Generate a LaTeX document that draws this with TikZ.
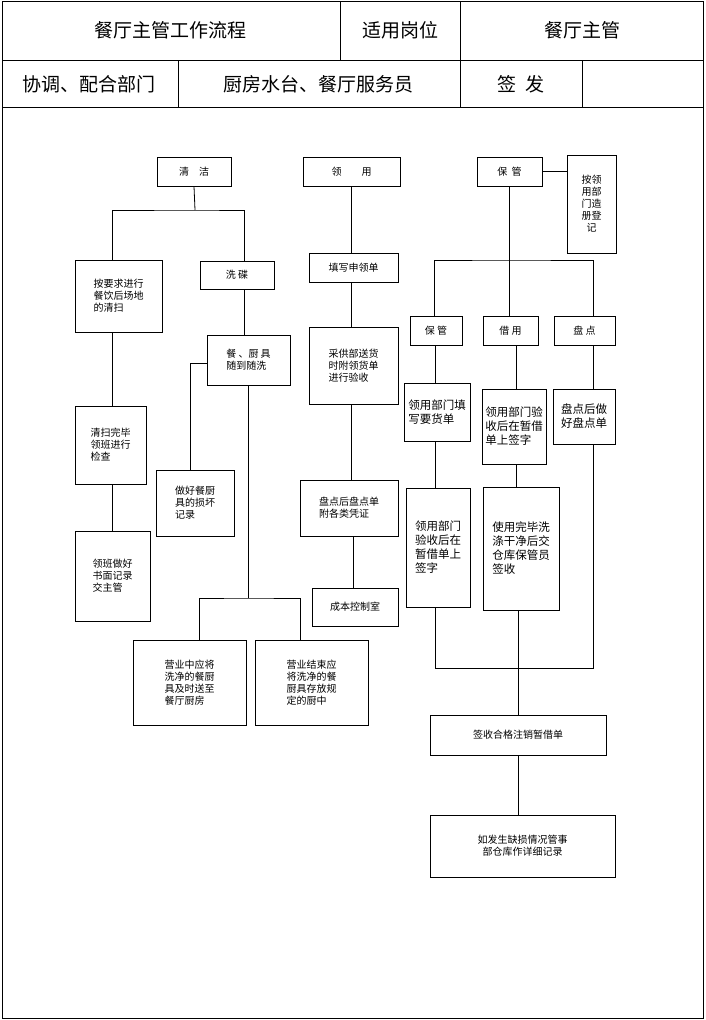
\documentclass[tikz,border=0pt]{standalone}
\usepackage{fontspec}
\setmainfont{Noto Sans CJK SC}
\begin{document}
\begin{tikzpicture}[x=1pt,y=-1pt,line width=0.8pt,
  bx/.style={draw,inner sep=0pt,align=left,font=\fontsize{13}{16}\selectfont},
  sm/.style={font=\fontsize{11.5}{14}\selectfont},
  hd/.style={font=\fontsize{19}{22}\selectfont}]
\useasboundingbox (0,0) rectangle (705,1020);
\newcommand\bx[6][]{\node[bx,#1,minimum width={#4-#2},minimum height={#5-#3}] (#6) at ({(#2+#4)/2},{(#3+#5)/2}) {};}
% header
\draw (2,1) rectangle (703,1018);
\draw (2,60) -- (703,60) (2,107) -- (703,107);
\draw (340,1) -- (340,60) (460,1) -- (460,107) (178,60) -- (178,107) (582,60) -- (582,107);
\node[hd] (h1) at (170,30) {餐厅主管工作流程};
\node[hd] (h2) at (400,30) {适用岗位};
\node[hd] (h3) at (582,30) {餐厅主管};
\node[hd] (h4) at (89,84) {协调、配合部门};
\node[hd] (h5) at (318,84) {厨房水台、餐厅服务员};
\node[hd] (h6) at (521,84) {签\ \ 发};
% boxes
\bx{157}{157}{231}{186}{qj} \node at (qj) {清\quad 洁};
\bx{303}{157}{400}{186}{ly} \node at (ly) {领\qquad 用};
\bx{477}{157}{542}{186}{bg} \node at (bg) {保\ \ 管};
\bx{567}{155}{616}{253}{az} \node[align=center] at (az) {按领\\用部\\门造\\册登\\记};
\bx{75}{260}{162}{332}{a1} \node[align=left] at (a1) {按要求进行\\餐饮后场地\\的清扫};
\bx{200}{261}{274}{289}{xd} \node at (xd) {洗\ 碟};
\bx{207}{335}{290}{385}{cc} \node[align=left] at (cc) {餐\ 、厨\ 具\\随到随洗};
\bx{75}{406}{146}{484}{a2} \node[align=left] at (a2) {清扫完毕\\领班进行\\检查};
\bx{156}{470}{234}{536}{zh} \node[align=left] at (zh) {做好餐厨\\具的损坏\\记录};
\bx{75}{531}{150}{621}{a3} \node[align=left] at (a3) {领班做好\\书面记录\\交主管};
\bx{309}{253}{398}{282}{tx} \node at (tx) {填写申领单};
\bx{309}{327}{398}{404}{cg} \node[align=left] at (cg) {采供部送货\\时附领货单\\进行验收};
\bx{300}{480}{398}{536}{pd} \node[align=left] at (pd) {盘点后盘点单\\附各类凭证};
\bx{312}{588}{398}{626}{cb} \node at (cb) {成本控制室};
\bx{133}{640}{246}{725}{y1} \node[align=left] at (y1) {营业中应将\\洗净的餐厨\\具及时送至\\餐厅厨房};
\bx{255}{640}{368}{725}{y2} \node[align=left] at (y2) {营业结束应\\将洗净的餐\\厨具存放规\\定的厨中};
\bx{410}{316}{462}{345}{b1} \node at (b1) {保\ 管};
\bx{483}{316}{538}{345}{b2} \node at (b2) {借\ 用};
\bx{554}{316}{615}{345}{b3} \node at (b3) {盘\ 点};
\bx{404}{383}{470}{441}{r1} \node[sm,align=left] at (r1) {领用部门填\\写要货单};
\bx{482}{389}{546}{464}{r2} \node[sm,align=left] at (r2) {领用部门验\\收后在暂借\\单上签字};
\bx{553}{389}{615}{444}{r3} \node[sm,align=left] at (r3) {盘点后做\\好盘点单};
\bx{406}{488}{470}{607}{r4} \node[sm,align=left] at (r4) {领用部门\\验收后在\\暂借单上\\签字};
\bx{483}{487}{559}{610}{r5} \node[sm,align=left] at (r5) {使用完毕洗\\涤干净后交\\仓库保管员\\签收};
\bx{430}{715}{606}{755}{qs} \node at (qs) {签收合格注销暂借单};
\bx{430}{815}{615}{877}{rf} \node[align=center] at (rf) {如发生缺损情况管事\\部仓库作详细记录};
% connectors
\draw (qj.south) -- (195,210) coordinate (j1);
\draw (112,260) |- (j1) -| (244,261);
\draw (244,289) -- (244,335);
\draw (112,332) -- (112,406);
\draw (112,484) -- (112,531);
\draw (cc.west|-0,363) -- (190,363) -- (190,470);
\draw (248,385) -- (248,598) coordinate (j2);
\draw (199,640) |- (j2) -| (300,640);
\draw (351,186) -- (351,253);
\draw (351,282) -- (351,327);
\draw (351,404) -- (351,480);
\draw (353,536) -- (353,588);
\draw (bg.east) -- (az.west|-bg.east);
\draw (509,186) -- (509,260) coordinate (j3);
\draw (434,316) |- (j3) -| (593,316);
\draw (509,260) -- (509,316);
\draw (435,345) -- (435,383);
\draw (435,441) -- (435,488);
\draw (516,345) -- (516,389);
\draw (516,464) -- (516,487);
\draw (593,345) -- (593,389);
\draw (435,607) |- (518,668) coordinate (j4);
\draw (593,444) |- (j4);
\draw (518,610) -- (518,715);
\draw (518,755) -- (518,815);
\end{tikzpicture}
\end{document}
